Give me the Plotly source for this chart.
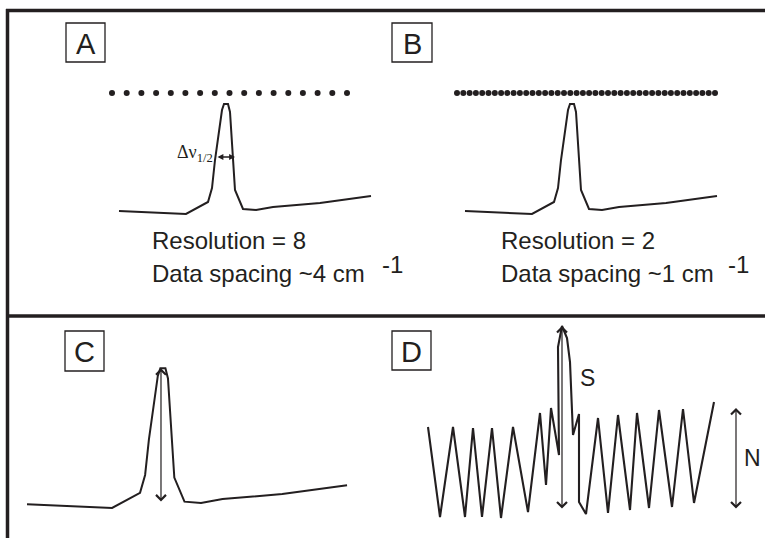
import plotly.graph_objects as go

W, H = 765, 538
INK = "#231f20"
SANS = "Liberation Sans, Arial, sans-serif"
SERIF = "Liberation Serif, Times New Roman, serif"

# Band profile: relative wavenumber vs. intensity
spec_x = [0, 67, 89, 93, 96, 100, 103, 105, 109, 111, 113, 115, 116, 124, 137, 154, 201, 252]
spec_y = [3, 0, 12, 26, 54, 84, 104, 110, 110, 102, 74, 44, 24, 5, 4, 7, 11, 18]

# Sampling grids (data point positions) for the two resolutions
grid_a = [-7, 7.7, 22.4, 37.1, 51.8, 66.4, 81.1, 95.8, 110.5, 125.2, 139.9,
          154.6, 169.3, 183.9, 198.6, 213.3, 228]
grid_b = [-8, -1.7, 4.6, 10.9, 17.2, 23.5, 29.8, 36.1, 42.3, 48.6, 54.9, 61.2,
          67.5, 73.8, 80.1, 86.4, 92.7, 99.0, 105.3, 111.6, 117.9, 124.1, 130.4,
          136.7, 143.0, 149.3, 155.6, 161.9, 168.2, 174.5, 180.8, 187.1, 193.4,
          199.7, 205.9, 212.2, 218.5, 224.8, 231.1, 237.4, 243.7, 250]
grid_level = 121

# Noisy spectrum with a weak band
noise_x = [0, 12, 25, 37, 45, 54, 64, 73, 85, 100, 112, 118, 123, 131, 130, 134,
           139, 142, 145, 151, 151, 158, 170, 180, 190, 202, 209, 221, 231, 244,
           255, 266, 286]
noise_y = [90, 0, 90, 0, 89, 0, 89, -1, 90, 5, 104, 32, 109, 62, 170, 191,
           179, 155, 82, 103, 15, 3, 99, 4, 102, 7, 104, 9, 107, 10, 108, 14, 115]

# Panel placement: origin in pixels and scale (pixels per unit)
panels = {"A": (119, 214, 1.0), "B": (465, 214, 1.0), "C": (27, 508, 1.27), "D": (428, 517, 1.0)}
axis_ids = {"A": 2, "B": 3, "C": 4, "D": 5}

fig = go.Figure()

line_style = dict(color=INK, width=2)

def ax(i, kind):
    return kind if i == 1 else f"{kind}{i}"

# spectra
for name in ["A", "B", "C"]:
    i = axis_ids[name]
    fig.add_trace(go.Scatter(x=spec_x, y=spec_y, mode="lines", line=line_style,
                             xaxis=ax(i, "x"), yaxis=ax(i, "y"), hoverinfo="skip"))

fig.add_trace(go.Scatter(x=grid_a, y=[grid_level] * len(grid_a), mode="markers",
                         marker=dict(color=INK, size=6), xaxis="x2", yaxis="y2"))
fig.add_trace(go.Scatter(x=grid_b, y=[grid_level] * len(grid_b), mode="markers",
                         marker=dict(color=INK, size=6), xaxis="x3", yaxis="y3"))

fig.add_trace(go.Scatter(x=noise_x, y=noise_y, mode="lines", line=dict(color=INK, width=2.1),
                         xaxis="x5", yaxis="y5", hoverinfo="skip"))

layout_axes = {}
layout_axes["xaxis"] = dict(domain=[0, 1], range=[0, W], visible=False, fixedrange=True)
layout_axes["yaxis"] = dict(domain=[0, 1], range=[H, 0], visible=False, fixedrange=True)
for name, (ox, oy, s) in panels.items():
    i = axis_ids[name]
    layout_axes[f"xaxis{i}"] = dict(domain=[0, 1], anchor=f"y{i}", visible=False,
                                    range=[-ox / s, (W - ox) / s], fixedrange=True)
    layout_axes[f"yaxis{i}"] = dict(domain=[0, 1], anchor=f"x{i}", visible=False,
                                    range=[-(H - oy) / s, oy / s], fixedrange=True)

shapes = []
# frame rules
for x0, y0, x1, y1 in [(6, 10.5, W, 10.5), (7.5, 9, 7.5, H), (6, 316, W, 316)]:
    shapes.append(dict(type="line", xref="x", yref="y", x0=x0, y0=y0, x1=x1, y1=y1,
                       line=dict(color=INK, width=3.5)))
# panel letter boxes
boxes = {"A": (66, 23, 105, 62), "B": (392, 23, 432, 62), "C": (65, 331, 104, 371), "D": (392, 331, 431, 370)}
annotations = []
for letter, (x0, y0, x1, y1) in boxes.items():
    shapes.append(dict(type="rect", xref="x", yref="y", x0=x0, y0=y0, x1=x1, y1=y1,
                       line=dict(color=INK, width=1.3)))
    annotations.append(dict(text=letter, x=(x0 + x1) / 2, y=(y0 + y1) / 2 + 1, xref="x", yref="y",
                            showarrow=False, font=dict(family=SANS, size=29, color=INK)))

def label(text, x, y, size=24, xanchor="left", family=SANS):
    annotations.append(dict(text=text, x=x, y=y, xref="x", yref="y", showarrow=False,
                            xanchor=xanchor, yanchor="middle",
                            font=dict(family=family, size=size, color=INK)))

label("Resolution = 8", 150, 240)
label("Data spacing ~4 cm", 150, 273.5)
label("-1", 380, 264)
label("Resolution = 2", 499, 240)
label("Data spacing ~1 cm", 499, 273.5)
label("-1", 726, 264)
label("S", 587, 378, size=23, xanchor="center")
label("N", 752, 458, size=23, xanchor="center")
label("Δν<sub>1/2</sub>", 215, 153, size=18, xanchor="right", family=SERIF)

def arrow(xref, yref, x0, y0, x1, y1, head, size, width):
    annotations.append(dict(x=x1, y=y1, ax=x0, ay=y0, xref=xref, yref=yref,
                            axref=xref, ayref=yref, text="", showarrow=True,
                            arrowside="end+start", arrowhead=head, startarrowhead=head,
                            arrowsize=size, startarrowsize=size,
                            arrowwidth=width, arrowcolor=INK))

# half-height width in A
arrow("x2", "y2", 97, 57, 116, 57, 2, 0.9, 1.3)
# peak height in C
arrow("x4", "y4", 105.5, 4, 105.5, 110, 4, 1.6, 1.2)
# signal and noise in D
arrow("x5", "y5", 134, 7, 134, 191, 4, 1.6, 1.2)
arrow("x5", "y5", 308, 7, 308, 109, 4, 1.6, 1.2)

fig.update_layout(width=W, height=H, margin=dict(l=0, r=0, t=0, b=0),
                  paper_bgcolor="white", plot_bgcolor="rgba(0,0,0,0)",
                  showlegend=False, shapes=shapes, annotations=annotations, **layout_axes)

fig.write_html("out.html")
